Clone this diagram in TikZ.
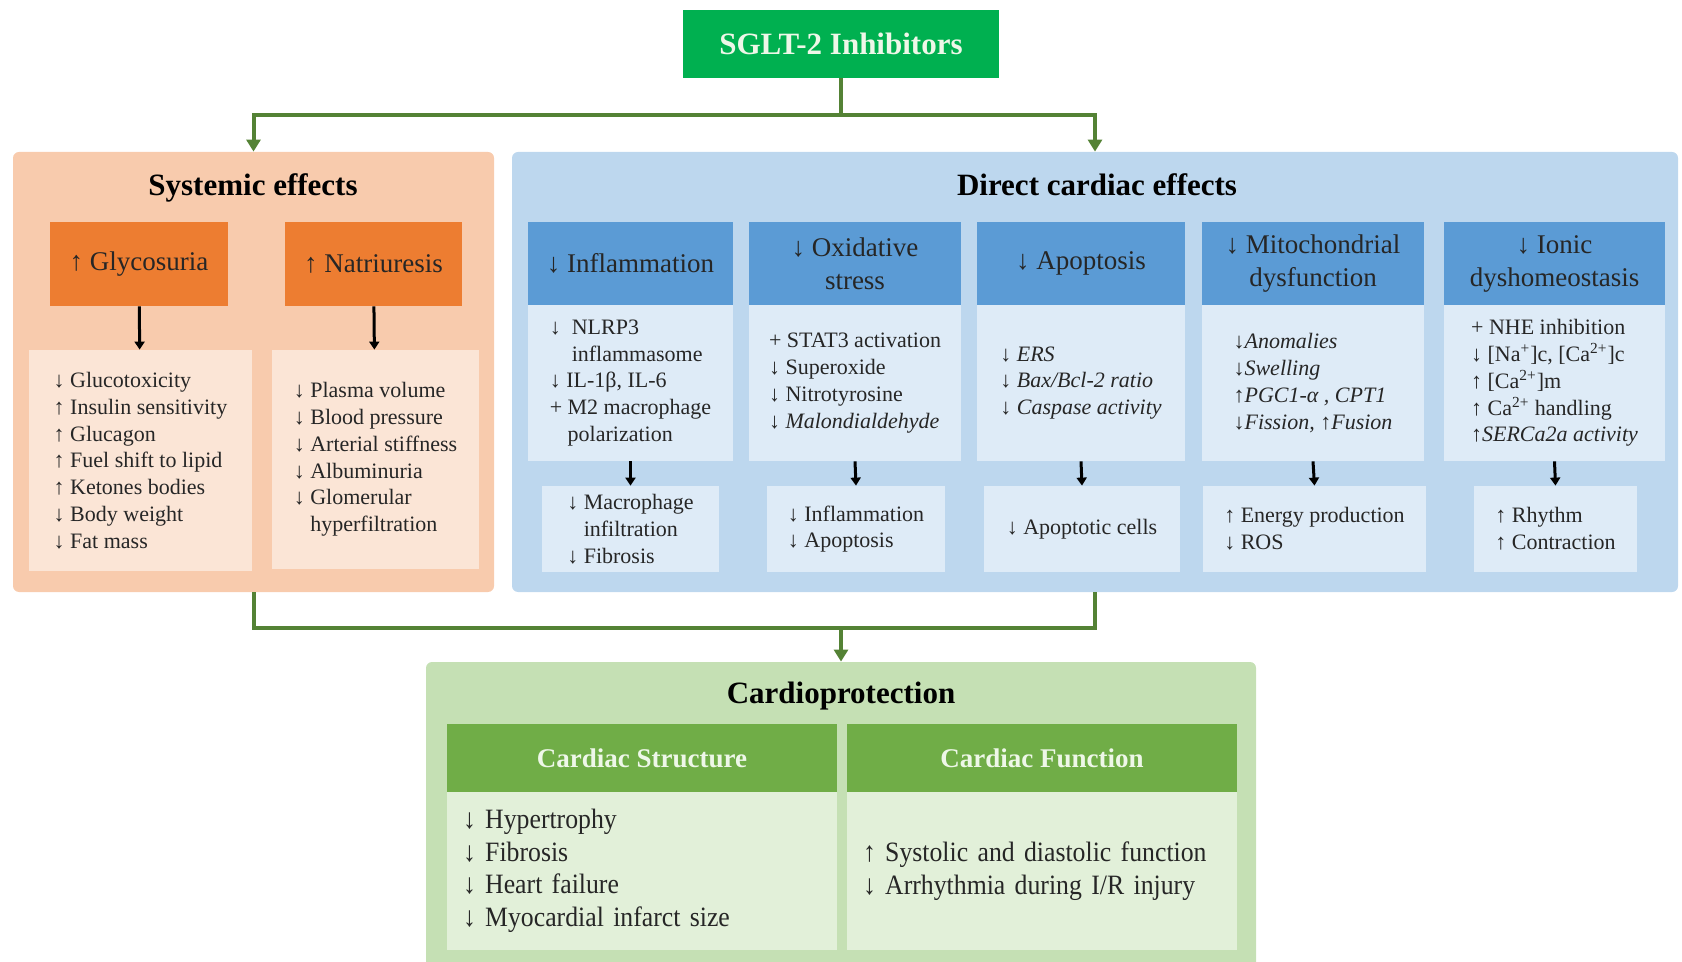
\documentclass[tikz,border=0pt]{standalone}
\usepackage{fontspec}
\setmainfont{Liberation Serif}
\newfontfamily\cpfamily[FakeStretch=0.92]{Liberation Serif}
\usetikzlibrary{arrows.meta}

\definecolor{sgltgreen}{RGB}{0,176,80}
\definecolor{linkgreen}{RGB}{84,130,53}
\definecolor{sysbg}{RGB}{248,203,173}
\definecolor{syshead}{RGB}{237,125,49}
\definecolor{syslist}{RGB}{251,229,214}
\definecolor{dirbg}{RGB}{189,215,238}
\definecolor{dirhead}{RGB}{91,155,213}
\definecolor{dirlist}{RGB}{222,235,247}
\definecolor{cpbg}{RGB}{197,224,180}
\definecolor{cphead}{RGB}{112,173,71}
\definecolor{cplist}{RGB}{226,240,217}
\definecolor{paletext}{RGB}{238,247,232}

\newcommand\fstitle{\fontsize{15.5}{18}\selectfont\bfseries}
\newcommand\fshead{\fontsize{13.5}{16.5}\selectfont}
\newcommand\fsitem{\fontsize{11}{13.4}\selectfont}
\newcommand\fscp{\cpfamily\fontsize{14}{16.3}\selectfont}
\newcommand\indn{\hphantom{↓}\ }

\begin{document}
\begin{tikzpicture}[x=0.5pt, y=-0.5pt,
    sized/.style 2 args={minimum width=#1*0.5pt, minimum height=#2*0.5pt, inner sep=0pt},
    section/.style={rounded corners=3pt},
    heading/.style={font=\fstitle, anchor=base},
    hd/.style={font=\fshead, text=black!85, align=center},
    items/.style={font=\fsitem, text=black!85, align=left},
    cpitems/.style={fill=cplist, sized={390}{158}, font=\fscp, text=black!85, align=left, text width=179pt},
    cphd/.style={fill=cphead, sized={390}{68}, font=\fshead\bfseries, text=paletext},
    link/.style={draw=linkgreen, line width=2pt},
    linkarrow/.style={link, -{Triangle[width=7pt,length=6pt]}},
    down/.style={line width=1.5pt, -{Triangle[width=5pt,length=4pt]}},
]
    \useasboundingbox (0,0) rectangle (1682,962);

    % top
    \node[fill=sgltgreen, sized={316}{68}, font=\fstitle, text=paletext] (sglt) at (841,44) {SGLT-2 Inhibitors};

    % sections
    \node[section, fill=sysbg, sized={481}{440}] (sys) at (253.5,372) {};
    \node[section, fill=dirbg, sized={1166}{440}] (direct) at (1095,372) {};
    \node[section, fill=cpbg, sized={830}{312}] (cp) at (841,818) {};

    % systemic effects
    \node[heading] (sysTitle) at (253,195.5) {Systemic effects};
    \node[hd, fill=syshead, sized={178}{84}] (glyco) at (139,264) {↑ Glycosuria};
    \node[hd, fill=syshead, sized={177}{84}] (natri) at (373.5,264) {↑ Natriuresis};
    \node[items, fill=syslist, sized={223}{221}] (glycoList) at (140.5,460.5)
        {↓ Glucotoxicity\\↑ Insulin sensitivity\\↑ Glucagon\\↑ Fuel shift to lipid\\↑ Ketones bodies\\↓ Body weight\\↓ Fat mass};
    \node[items, fill=syslist, sized={207}{219}] (natriList) at (375.5,459.5)
        {↓ Plasma volume\\↓ Blood pressure\\↓ Arterial stiffness\\↓ Albuminuria\\↓ Glomerular\\\indn hyperfiltration};
    \draw[down] (glyco) -- (glycoList);
    \draw[down] (natri) -- (natriList);

    % direct cardiac effects
    \node[heading] (dirTitle) at (1097,195.5) {Direct cardiac effects};
    \node[hd, fill=dirhead, sized={205}{83}] (infl) at (630.5,263.5) {↓ Inflammation};
    \node[hd, fill=dirhead, sized={212}{83}] (oxid) at (855,263.5) {↓ Oxidative\\stress};
    \node[hd, fill=dirhead, sized={208}{83}] (apop) at (1081,263.5) {↓ Apoptosis};
    \node[hd, fill=dirhead, sized={222}{83}] (mito) at (1313,263.5) {↓ Mitochondrial\\dysfunction};
    \node[hd, fill=dirhead, sized={221}{83}] (ionic) at (1554.5,263.5) {↓ Ionic\\dyshomeostasis};

    \node[items, fill=dirlist, sized={205}{156}] (inflD) at (630.5,383)
        {↓\ \ NLRP3\\\indn\ inflammasome\\↓ IL-1β, IL-6\\+ M2 macrophage\\\hphantom{+}\ polarization};
    \node[items, fill=dirlist, sized={212}{156}] (oxidD) at (855,383)
        {+ STAT3 activation\\↓ Superoxide\\↓ Nitrotyrosine\\↓ \textit{Malondialdehyde}};
    \node[items, fill=dirlist, sized={208}{156}] (apopD) at (1081,383)
        {↓ \textit{ERS}\\↓ \textit{Bax/Bcl-2 ratio}\\↓ \textit{Caspase activity}};
    \node[items, fill=dirlist, sized={222}{156}] (mitoD) at (1313,383)
        {↓\textit{Anomalies}\\↓\textit{Swelling}\\↑\textit{PGC1-α , CPT1}\\↓\textit{Fission, }↑\textit{Fusion}};
    \node[items, fill=dirlist, sized={221}{156}] (ionicD) at (1554.5,383)
        {+ NHE inhibition\\↓ [Na\textsuperscript{+}]c, [Ca\textsuperscript{2+}]c\\↑ [Ca\textsuperscript{2+}]m\\↑ Ca\textsuperscript{2+} handling\\↑\textit{SERCa2a activity}};

    \node[items, fill=dirlist, sized={177}{86}] (inflB) at (630.5,529) {↓ Macrophage\\\indn infiltration\\↓ Fibrosis};
    \node[items, fill=dirlist, sized={178}{86}] (oxidB) at (856,529) {↓ Inflammation\\↓ Apoptosis};
    \node[items, fill=dirlist, sized={196}{86}] (apopB) at (1082,529) {↓ Apoptotic cells};
    \node[items, fill=dirlist, sized={223}{86}] (mitoB) at (1314.5,529) {↑ Energy production\\↓ ROS};
    \node[items, fill=dirlist, sized={163}{86}] (ionicB) at (1555.5,529) {↑ Rhythm\\↑ Contraction};

    \draw[down] (inflD) -- (inflB);
    \draw[down] (oxidD.south) -- (oxidB.north);
    \draw[down] (apopD.south) -- (apopB.north);
    \draw[down] (mitoD.south) -- (mitoB.north);
    \draw[down] (ionicD.south) -- (ionicB.north);

    % cardioprotection
    \node[heading] (cpTitle) at (841,703) {Cardioprotection};
    \node[cphd] (cpStruct) at (642,758) {Cardiac Structure};
    \node[cphd] (cpFunc) at (1042,758) {Cardiac Function};
    \node[cpitems] (cpStructList) at (642,871)
        {↓ Hypertrophy\\↓ Fibrosis\\↓ Heart failure\\↓ Myocardial infarct size};
    \node[cpitems] (cpFuncList) at (1042,871)
        {↑ Systolic and diastolic function\\↓ Arrhythmia during I/R injury};

    % connectors
    \coordinate (split) at (841,115);
    \coordinate (join) at (841,628);
    \draw[link] (sglt) -- (split);
    \draw[linkarrow] (split) -| (sys.north);
    \draw[linkarrow] (split) -| (direct.north);
    \draw[link] (sys.south) |- (join);
    \draw[link] (direct.south) |- (join);
    \draw[linkarrow] (join) -- (cp.north);
\end{tikzpicture}
\end{document}
